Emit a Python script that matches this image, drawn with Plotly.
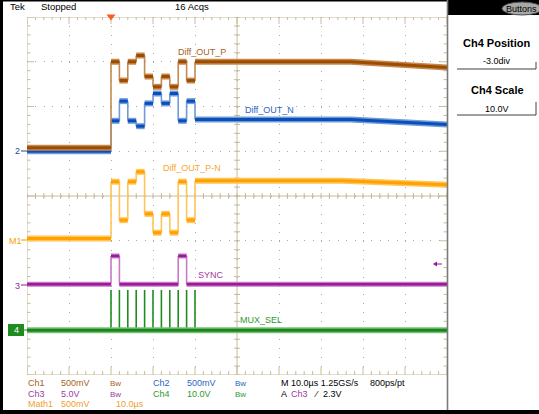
import plotly.graph_objects as go

# ---------------- acquisition data ----------------
# time in microseconds (trigger at 0), amplitudes in screen divisions
t_start_us, t_stop_us = -20, 80
bit_start_us = [0, 2, 4, 6, 8, 10, 12, 14, 16, 18]
word_end_us = 20

# Ch1  Diff_OUT_P
ch1_pre = 1.08
ch1_levels = [3.00, 2.58, 3.00, 3.14, 2.67, 2.44, 2.67, 2.44, 3.00, 2.58]
ch1_tail_t = [20, 57, 80]
ch1_tail_v = [3.00, 3.00, 2.87]

# Ch2  Diff_OUT_N
ch2_pre = 1.00
ch2_levels = [1.68, 2.12, 1.68, 1.56, 2.07, 2.29, 2.07, 2.29, 1.68, 2.12]
ch2_tail_t = [20, 57, 80]
ch2_tail_v = [1.71, 1.71, 1.60]

# Math1  Diff_OUT_P-N
math_pre = -0.95
math_levels = [0.32, -0.54, 0.32, 0.54, -0.40, -0.82, -0.40, -0.82, 0.32, -0.54]
math_tail_t = [20, 55, 80]
math_tail_v = [0.34, 0.34, 0.25]

# Ch3  SYNC
sync_start_us = [0, 16]
sync_stop_us = [2, 18]
sync_low, sync_high = -1.97, -1.34

# Ch4  MUX_SEL
mux_edges_us = [0, 2, 4, 6, 8, 10, 12, 14, 16, 18, 20]
mux_base, mux_peak = -3.0, -2.1

# ---------------- screen geometry ----------------
W, H = 539, 414
GL, GT, GR, GB = 27, 17, 447, 375          # graticule box in pixels
GW, GH = GR - GL, GB - GT
FONT = "Liberation Sans, Arial, sans-serif"
GRID = "#C8BD98"

def px(x):
    return (x - GL) / GW

def py(y):
    return 1 - (y - GT) / GH

XPX = (t_stop_us - t_start_us) / GW       # µs per pixel
YPX = 8.0 / GH                            # div per pixel


def stepped(pre, levels, tail_t, tail_v):
    ends = bit_start_us[1:] + [word_end_us]
    segs = [(t_start_us, bit_start_us[0], pre)] + list(zip(bit_start_us, ends, levels))
    xs, ys = [], []
    for t0, t1, v in segs:
        xs += [t0, t1, None]
        ys += [v, v, None]
    xs += list(tail_t) + [None]
    ys += list(tail_v) + [None]
    ex, ey = [], []
    prev = pre
    for t, v in zip(bit_start_us, levels):
        ex += [t, t, None]
        ey += [prev, v, None]
        prev = v
    ex += [word_end_us, word_end_us, None]
    ey += [prev, tail_v[0], None]
    return xs, ys, ex, ey


def pulses(low, high, starts, stops):
    xs, ys, ex, ey = [], [], [], []
    t_prev = t_start_us
    for a, b in zip(starts, stops):
        xs += [t_prev, a, None, a, b, None]
        ys += [low, low, None, high, high, None]
        ex += [a, a, None, b, b, None]
        ey += [low, high, None, high, low, None]
        t_prev = b
    xs += [t_prev, t_stop_us, None]
    ys += [low, low, None]
    return xs, ys, ex, ey


fig = go.Figure()


def add_wave(xs, ys, ex, ey, core, halo, wide=6, narrow=3):
    fig.add_trace(go.Scatter(x=ex, y=ey, mode="lines", line=dict(color=halo, width=1.6),
                             hoverinfo="skip", showlegend=False))
    fig.add_trace(go.Scatter(x=xs, y=ys, mode="lines", line=dict(color=halo, width=wide),
                             hoverinfo="skip", showlegend=False))
    fig.add_trace(go.Scatter(x=xs, y=ys, mode="lines", line=dict(color=core, width=narrow),
                             hoverinfo="skip", showlegend=False))


add_wave(*stepped(ch2_pre, ch2_levels, ch2_tail_t, ch2_tail_v), "#0A4FB8", "#6F9BDA")
add_wave(*stepped(ch1_pre, ch1_levels, ch1_tail_t, ch1_tail_v), "#9E4C00", "#C48A52")
add_wave(*stepped(math_pre, math_levels, math_tail_t, math_tail_v), "#FFA200", "#FFC45A")
add_wave(*pulses(sync_low, sync_high, sync_start_us, sync_stop_us), "#9A1A9A", "#C77AC7",
         wide=5, narrow=2.5)

# MUX_SEL spikes and baseline
mx, my = [], []
for t in mux_edges_us:
    mx += [t, t, None]
    my += [mux_base, mux_peak, None]
fig.add_trace(go.Scatter(x=mx, y=my, mode="lines", line=dict(color="#1E8C1E", width=1.6),
                         hoverinfo="skip", showlegend=False))
fig.add_trace(go.Scatter(x=[t_start_us, t_stop_us], y=[mux_base, mux_base], mode="lines",
                         line=dict(color="#7CC07C", width=6), hoverinfo="skip", showlegend=False))
fig.add_trace(go.Scatter(x=[t_start_us, t_stop_us], y=[mux_base, mux_base], mode="lines",
                         line=dict(color="#1A861A", width=3), hoverinfo="skip", showlegend=False))

# ---------------- graticule ----------------
shapes = []
path = []
# edges
path.append(f"M{t_start_us},-4 L{t_start_us},4")
path.append(f"M{t_start_us},4 L{t_stop_us},4")
path.append(f"M{t_start_us},-4 L{t_stop_us},-4")
# centre cross
path.append(f"M30,-4 L30,4")
path.append(f"M{t_start_us},0 L{t_stop_us},0")
for i in range(51):
    t = t_start_us + 2 * i
    major = i % 5 == 0
    # top ruler ticks (down) and bottom ruler ticks (up)
    lt = (7 if major else 3) * YPX
    lb = (8 if major else 4) * YPX
    path.append(f"M{t},4 L{t},{4 - lt}")
    path.append(f"M{t},-4 L{t},{-4 + lb}")
    # centre horizontal ticks
    path.append(f"M{t},{-3 * YPX} L{t},{3 * YPX}")
for j in range(41):
    v = -4 + 0.2 * j
    major = j % 5 == 0
    ll = (7 if major else 3.5) * XPX
    path.append(f"M{t_start_us},{v} L{t_start_us + ll},{v}")
    path.append(f"M{t_stop_us},{v} L{t_stop_us - ll},{v}")
    path.append(f"M{30 - 3 * XPX},{v} L{30 + 3 * XPX},{v}")
shapes.append(dict(type="path", xref="x", yref="y", path=" ".join(path),
                   line=dict(color=GRID, width=1), layer="below"))

# frame pieces around the screen
def rect(x0, y0, x1, y1, fill, line=None, layer="above"):
    shapes.append(dict(type="rect", xref="paper", yref="paper",
                       x0=px(x0), x1=px(x1), y0=py(y1), y1=py(y0),
                       fillcolor=fill, line=dict(width=0) if line is None else line,
                       layer=layer))

def seg(x0, y0, x1, y1, color, width=1):
    shapes.append(dict(type="line", xref="paper", yref="paper",
                       x0=px(x0), x1=px(x1), y0=py(y0), y1=py(y1),
                       line=dict(color=color, width=width)))

rect(0, 0, W, 1.5, "black")
rect(0, 0, 3, H, "black")
rect(0, 410, W, H, "black")
rect(447, 0, W, 15, "black")
seg(447.5, 0, 447.5, 410, "#7A7A7A", 1.6)

# trigger position marker
shapes.append(dict(type="path", xref="paper", yref="paper",
                   path=f"M{px(106.5)},{py(14.5)} L{px(115.5)},{py(14.5)} L{px(111)},{py(20.5)} Z",
                   fillcolor="#FF5A1F", line=dict(width=0)))

# Buttons pill
shapes.append(dict(type="circle", xref="paper", yref="paper",
                   x0=px(502), x1=px(542), y0=py(15), y1=py(2),
                   fillcolor="#A8A8A8", line=dict(color="#505050", width=1)))

# side menu boxes
for yb, yt in [(69, 62), (115, 102)]:
    seg(457, yb, 536, yb, "#404040", 1)
    seg(536, yt, 536, yb, "#404040", 1)

# channel marker arrows
for y, col in [(151, "#2C4A8C"), (240, "#F2A100"), (285, "#9A1A9A"), (330, "#1E8C1E")]:
    seg(21, y, 27, y, col, 1)
rect(8, 324, 24, 336, "#1E8C1E")
# trigger level arrow
seg(434, 264, 442, 264, "#9A1A9A", 1)
shapes.append(dict(type="path", xref="paper", yref="paper",
                   path=f"M{px(433)},{py(264)} L{px(437)},{py(261.5)} L{px(437)},{py(266.5)} Z",
                   fillcolor="#9A1A9A", line=dict(width=0)))

# ---------------- text ----------------
ann = []

def text(x, y, s, color="black", size=9, anchor="left", bold=False, family=FONT):
    if bold:
        s = f"<b>{s}</b>"
    ann.append(dict(x=px(x), y=py(y), xref="paper", yref="paper", text=s, showarrow=False,
                    xanchor=anchor, yanchor="middle", borderpad=0,
                    font=dict(family=family, size=size, color=color)))

text(9, 7, "Tek", size=9.5)
text(40, 7, "Stopped", size=9.5)
text(174, 7, "16 Acqs", size=9.5)
text(521, 8.5, "Buttons", size=9, anchor="center")

text(497, 43, "Ch4 Position", size=11, anchor="center", bold=True)
text(497, 61, "-3.0div", size=9, anchor="center")
text(497, 90, "Ch4 Scale", size=11, anchor="center", bold=True)
text(497, 109, "10.0V", size=9, anchor="center")

# trace labels
text(177, 52, "Diff_OUT_P", color="#A8611E")
text(244, 110, "Diff_OUT_N", color="#2C64C4")
text(162, 168, "Diff_OUT_P-N", color="#F7A830")
text(197, 275, "SYNC", color="#A03AA0")
text(239, 320, "MUX_SEL", color="#2E9A2E")

# channel markers
text(14, 151, "2", color="#2C4A8C")
text(8, 241, "M1", color="#F2A100")
text(14, 286, "3", color="#9A1A9A")
text(13, 330, "4", color="white")

# readouts
C1, C2, C3, C4, CM = "#A8611E", "#2C64C4", "#A03AA0", "#2E9A2E", "#F0A030"
rows = [383, 394, 404]
text(27, rows[0], "Ch1", C1)
text(60, rows[0], "500mV", C1)
text(109, rows[0], "Bw", C1, size=8)
text(152, rows[0], "Ch2", C2)
text(186, rows[0], "500mV", C2)
text(234, rows[0], "Bw", C2, size=8)
text(27, rows[1], "Ch3", C3)
text(60, rows[1], "5.0V", C3)
text(109, rows[1], "Bw", C3, size=8)
text(152, rows[1], "Ch4", C4)
text(186, rows[1], "10.0V", C4)
text(234, rows[1], "Bw", C4, size=8)
text(27, rows[2], "Math1", CM)
text(60, rows[2], "500mV", CM)
text(115, rows[2], "10.0µs", CM)
text(280, rows[0], "M 10.0µs 1.25GS/s")
text(369, rows[0], "800ps/pt")
text(280, rows[1], "A")
text(290, rows[1], "Ch3", C3)
text(313, rows[1], "⁄")
text(322, rows[1], "2.3V")

fig.update_layout(
    width=W, height=H,
    margin=dict(l=GL, r=W - GR, t=GT, b=H - GB, pad=0),
    paper_bgcolor="white", plot_bgcolor="white",
    shapes=shapes, annotations=ann,
    xaxis=dict(range=[t_start_us, t_stop_us], dtick=10, tick0=0, showgrid=True,
               gridcolor="#A8A8A8", griddash="1px,7.95px", gridwidth=1,
               zeroline=False, showline=False, showticklabels=False, ticks="",
               fixedrange=True),
    yaxis=dict(range=[-4, 4], dtick=1, tick0=0, showgrid=True,
               gridcolor="#A8A8A8", griddash="1px,7.4px", gridwidth=1,
               zeroline=False, showline=False, showticklabels=False, ticks="",
               fixedrange=True),
    showlegend=False,
)

fig.write_html("out.html")
